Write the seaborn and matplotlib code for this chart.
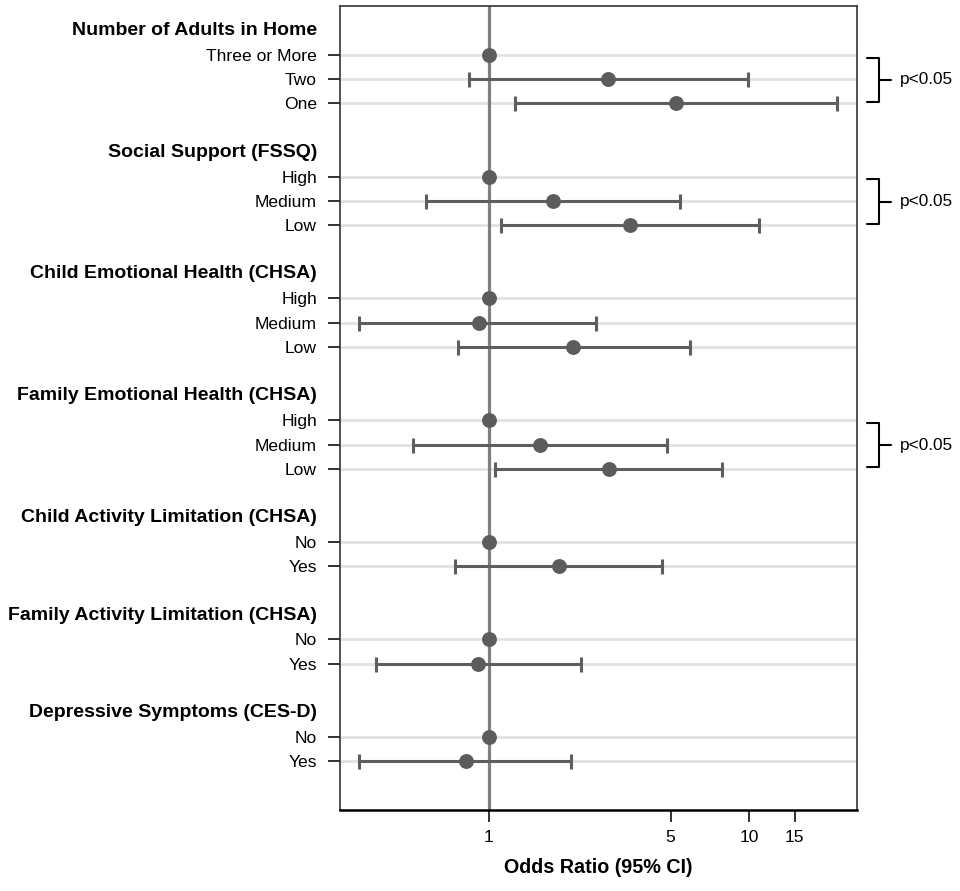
import numpy as np
import pandas as pd
import matplotlib
matplotlib.use("Agg")
import matplotlib.pyplot as plt
import matplotlib.transforms as mtransforms
import seaborn as sns

# Forest plot data (odds ratios)
groups = ["Number of Adults in Home", "Social Support (FSSQ)",
          "Child Emotional Health (CHSA)", "Family Emotional Health (CHSA)",
          "Child Activity Limitation (CHSA)", "Family Activity Limitation (CHSA)",
          "Depressive Symptoms (CES-D)"]
levels = [["Three or More", "Two", "One"],
          ["High", "Medium", "Low"],
          ["High", "Medium", "Low"],
          ["High", "Medium", "Low"],
          ["No", "Yes"],
          ["No", "Yes"],
          ["No", "Yes"]]
odds = [[1, 2.88, 5.25], [1, 1.77, 3.50], [1, 0.92, 2.11], [1, 1.58, 2.90],
        [1, 1.86], [1, 0.91], [1, 0.82]]
lower = [[np.nan, 0.84, 1.26], [np.nan, 0.574, 1.12], [np.nan, 0.319, 0.761],
         [np.nan, 0.513, 1.055], [np.nan, 0.743], [np.nan, 0.371], [np.nan, 0.319]]
upper = [[np.nan, 9.93, 21.8], [np.nan, 5.45, 10.9], [np.nan, 2.59, 5.94],
         [np.nan, 4.84, 7.90], [np.nan, 4.64], [np.nan, 2.26], [np.nan, 2.08]]
significant = [True, True, False, True, False, False, False]
x_ticks = [1, 5, 10, 15]

# build the long table with row positions
rows = []
header_pos = []
pos = -1
for g, labs, o, lo, hi in zip(groups, levels, odds, lower, upper):
    header_pos.append(pos)
    for i, lab in enumerate(labs):
        rows.append({"group": g, "level": lab, "pos": pos + 1 + i,
                     "OR": o[i], "lo": lo[i], "hi": hi[i]})
    pos = pos + len(labs) + 2
df = pd.DataFrame(rows)

sns.set_theme(style="ticks")
plt.rcParams["font.family"] = ["Liberation Sans", "DejaVu Sans"]
plt.rcParams["text.color"] = "black"
plt.rcParams["axes.labelcolor"] = "black"
plt.rcParams["xtick.color"] = "black"
plt.rcParams["ytick.color"] = "black"

fig = plt.figure(figsize=(9.6, 8.91), dpi=100)
ax = fig.add_axes([340 / 960, 1 - 810 / 891, 517 / 960, 804 / 891])

ax.set_xscale("log")
ax.set_xlim(0.269, 26.0)
ax.set_ylim(31, -2)

# light horizontal guide lines per row
for p in df["pos"]:
    ax.axhline(p, color="#e2e2e2", lw=2.0, zorder=0)
ax.axvline(1, color="#808080", lw=2.3, zorder=1)

ci = df.dropna(subset=["lo"])
ax.errorbar(ci["OR"], ci["pos"], xerr=[ci["OR"] - ci["lo"], ci["hi"] - ci["OR"]],
            fmt="none", ecolor="#5e5e5e", elinewidth=2.2, capsize=5.4,
            capthick=2.2, zorder=2)
sns.scatterplot(data=df, x="OR", y="pos", ax=ax, color="#5c5c5c", s=115,
                linewidth=0, zorder=3, legend=False)

ax.set_yticks(df["pos"])
ax.set_yticklabels(df["level"], fontsize=12.6)
ax.set_xticks(x_ticks)
ax.set_xticklabels([str(t) for t in x_ticks], fontsize=12.6)
ax.xaxis.set_minor_locator(matplotlib.ticker.NullLocator())
ax.tick_params(axis="y", length=8.6, width=1.3, pad=8, color="#222222")
ax.tick_params(axis="x", length=8.6, width=1.3, pad=5.5, color="#222222")
ax.set_xlabel("Odds Ratio (95% CI)", fontsize=14.2, fontweight="bold", labelpad=9.5)
ax.set_ylabel("")

for side in ["left", "right", "top"]:
    ax.spines[side].set_color("#333333")
    ax.spines[side].set_linewidth(1.2)
ax.spines["bottom"].set_color("black")
ax.spines["bottom"].set_linewidth(1.8)

trans = mtransforms.blended_transform_factory(ax.transAxes, ax.transData)
for g, hp in zip(groups, header_pos):
    ax.text(-0.0445, hp, g, transform=trans, ha="right", va="center",
            fontsize=14.0, fontweight="bold")

# brackets for significant groups
for g, hp, labs, sig in zip(groups, header_pos, levels, significant):
    if not sig:
        continue
    top = hp + 1 + 0.12
    bot = hp + len(labs) - 0.06
    mid = (top + bot) / 2
    ax.plot([1.0193, 1.0426, 1.0426, 1.0193], [top, top, bot, bot],
            transform=trans, color="black", lw=1.5, clip_on=False)
    ax.plot([1.0426, 1.0658], [mid, mid], transform=trans, color="black",
            lw=1.5, clip_on=False)
    ax.text(1.0832, mid, "p<0.05", transform=trans, ha="left", va="center",
            fontsize=12.4)

fig.savefig("out.png", dpi=100)
